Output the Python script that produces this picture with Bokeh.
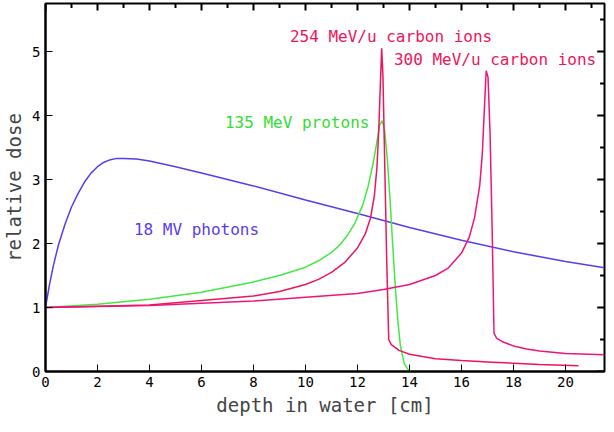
from bokeh.plotting import figure
from bokeh.models import Range1d, Label, ColumnDataSource
from bokeh.embed import file_html
from bokeh.resources import INLINE

photon_x = [0, 0.15, 0.3, 0.5, 0.75, 1, 1.25, 1.5, 1.75, 2, 2.25, 2.5, 2.75, 3, 3.5, 4, 5, 6, 8, 10, 12, 14, 16, 18, 20, 21.5]
photon_y = [1, 1.35, 1.65, 1.98, 2.3, 2.57, 2.78, 2.96, 3.1, 3.2, 3.27, 3.31, 3.33, 3.33, 3.32, 3.29, 3.2, 3.1, 2.9, 2.68, 2.47, 2.25, 2.05, 1.87, 1.72, 1.62]

proton_x = [0, 2, 4, 6, 8, 9, 10, 10.5, 11, 11.3, 11.6, 11.9, 12.2, 12.4, 12.6, 12.75, 12.85, 12.95, 13.05, 13.15, 13.25, 13.35, 13.45, 13.55, 13.65, 13.8, 13.95, 14.1]
proton_y = [1, 1.05, 1.13, 1.24, 1.4, 1.5, 1.63, 1.73, 1.86, 1.97, 2.12, 2.32, 2.6, 2.88, 3.25, 3.6, 3.85, 3.92, 3.75, 3.3, 2.7, 2.0, 1.35, 0.8, 0.4, 0.12, 0.03, 0]

c254_x = [0, 4, 8, 9, 10, 10.5, 11, 11.5, 12, 12.3, 12.5, 12.65, 12.75, 12.82, 12.88, 12.93, 12.98, 13.05, 13.12, 13.2, 13.3, 13.6, 14, 15, 16, 17, 18, 19, 20.5]
c254_y = [1, 1.04, 1.18, 1.25, 1.36, 1.44, 1.55, 1.7, 1.93, 2.15, 2.4, 2.75, 3.2, 3.8, 4.5, 5.05, 4.6, 3.2, 1.8, 0.5, 0.42, 0.33, 0.27, 0.2, 0.17, 0.15, 0.13, 0.11, 0.09]

c300_x = [0, 4, 8, 12, 13, 14, 15, 15.5, 16, 16.3, 16.5, 16.7, 16.8, 16.88, 16.95, 17.02, 17.1, 17.18, 17.25, 17.35, 17.6, 18, 18.5, 19, 20, 21.5]
c300_y = [1, 1.03, 1.1, 1.22, 1.28, 1.36, 1.5, 1.62, 1.85, 2.1, 2.4, 2.9, 3.4, 4.1, 4.7, 4.6, 3.7, 2.2, 0.6, 0.52, 0.46, 0.4, 0.35, 0.32, 0.28, 0.26]

x_ticks = [0, 2, 4, 6, 8, 10, 12, 14, 16, 18, 20]
y_ticks = [0, 1, 2, 3, 4, 5]
x_minor = [1, 3, 5, 7, 9, 11, 13, 15, 17, 19, 21]
y_minor = [0.5, 1.5, 2.5, 3.5, 4.5, 5.5]
X_MAX, Y_MAX = 21.5, 5.75

FONT = "DejaVu Sans Mono"

p = figure(width=606, height=418, output_backend="svg", toolbar_location=None,
           x_range=Range1d(0, X_MAX), y_range=Range1d(0, Y_MAX),
           min_border_right=2, min_border_top=3, min_border_left=4, min_border_bottom=4)
p.grid.visible = False
p.outline_line_color = "black"
p.outline_line_width = 2

for ax in (p.xaxis[0], p.yaxis[0]):
    ax.major_tick_in = 7
    ax.major_tick_out = 0
    ax.minor_tick_in = 4
    ax.minor_tick_out = 0
    ax.major_label_text_font = FONT
    ax.major_label_text_font_size = "14px"
    ax.major_label_text_color = "black"
    ax.axis_label_text_font = FONT
    ax.axis_label_text_font_size = "19px"
    ax.axis_label_text_font_style = "normal"
    ax.axis_label_standoff = 4
    ax.axis_line_width = 2
p.xaxis.ticker = x_ticks
p.yaxis.ticker = y_ticks
p.xaxis.axis_label = "depth in water [cm]"
p.yaxis.axis_label = "relative dose"

# ticks on the top and right frame edges
top_major = ColumnDataSource(dict(x=x_ticks, y0=[Y_MAX] * len(x_ticks), y1=[Y_MAX - 0.11] * len(x_ticks)))
top_minor = ColumnDataSource(dict(x=x_minor, y0=[Y_MAX] * len(x_minor), y1=[Y_MAX - 0.07] * len(x_minor)))
right_major = ColumnDataSource(dict(y=y_ticks, x0=[X_MAX] * len(y_ticks), x1=[X_MAX - 0.28] * len(y_ticks)))
right_minor = ColumnDataSource(dict(y=y_minor, x0=[X_MAX] * len(y_minor), x1=[X_MAX - 0.17] * len(y_minor)))
p.segment(x0="x", y0="y0", x1="x", y1="y1", source=top_major, line_color="black", line_width=2)
p.segment(x0="x", y0="y0", x1="x", y1="y1", source=top_minor, line_color="black", line_width=2)
p.segment(x0="x0", y0="y", x1="x1", y1="y", source=right_major, line_color="black", line_width=2)
p.segment(x0="x0", y0="y", x1="x1", y1="y", source=right_minor, line_color="black", line_width=2)

p.line(photon_x, photon_y, color="#5a3cf0", line_width=1.5)
p.line(proton_x, proton_y, color="#44e844", line_width=1.5)
p.line(c254_x, c254_y, color="#f0145a", line_width=1.5)
p.line(c300_x, c300_y, color="#f0147a", line_width=1.5)

labels = [("254 MeV/u carbon ions", 9.4, 5.08, "#f0145a"),
          ("300 MeV/u carbon ions", 13.4, 4.72, "#f0145a"),
          ("135 MeV protons", 6.9, 3.75, "#33dd33"),
          ("18 MV photons", 3.4, 2.07, "#5a3cf0")]
for t, x, y, c in labels:
    p.add_layout(Label(x=x, y=y, text=t, text_color=c, text_font=FONT,
                       text_font_size="16px"))

open("out.html", "w").write(file_html(p, INLINE))
